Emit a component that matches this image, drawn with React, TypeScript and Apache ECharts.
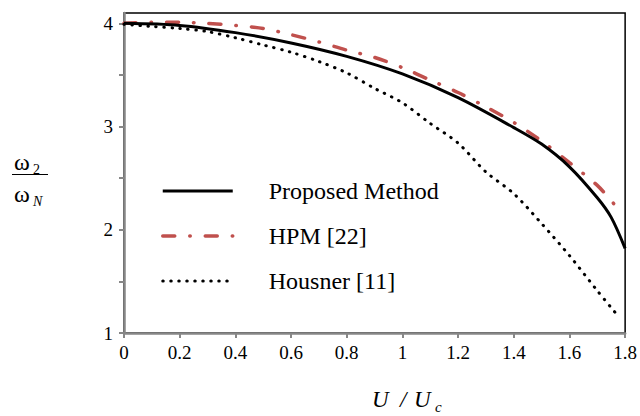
import React, { useEffect, useRef } from "react";
import * as echarts from "echarts";

// ---- Data ----
const proposedU = [0, 0.2, 0.4, 0.6, 0.8, 1.0, 1.2, 1.4, 1.5, 1.6, 1.7, 1.75, 1.8];
const proposedV = [4.0, 3.98, 3.91, 3.81, 3.68, 3.51, 3.28, 2.99, 2.83, 2.61, 2.31, 2.12, 1.82];

const hpmU = [0, 0.1, 0.2, 0.3, 0.4, 0.5, 0.6, 0.7, 0.8, 0.9, 1.0, 1.1, 1.2, 1.3, 1.4, 1.5, 1.6, 1.7, 1.76];
const hpmV = [4.0, 4.01, 4.01, 4.0, 3.98, 3.95, 3.89, 3.82, 3.74, 3.67, 3.57, 3.45, 3.33, 3.19, 3.04, 2.86, 2.65, 2.43, 2.25];

const housnerU = [0, 0.1, 0.2, 0.3, 0.4, 0.5, 0.6, 0.7, 0.8, 0.9, 1.0, 1.1, 1.2, 1.3, 1.4, 1.5, 1.6, 1.7, 1.77];
const housnerV = [3.99, 3.97, 3.95, 3.92, 3.86, 3.79, 3.72, 3.63, 3.52, 3.37, 3.23, 3.03, 2.84, 2.56, 2.35, 2.06, 1.75, 1.41, 1.18];

const seriesNames = ["Proposed Method", "HPM [22]", "Housner [11]"];
const yTickValues = [1, 1.5, 2, 2.5, 3, 3.5, 4];
const yLabelValues = [1, 2, 3, 4];

const pairs = (xs: number[], ys: number[]) => xs.map((x, i) => [x, ys[i]]);

const SERIF = "Liberation Serif, Times New Roman, serif";
const AXIS_GRAY = "#878787";

export default function App() {
  const ref = useRef<HTMLDivElement>(null);

  useEffect(() => {
    if (!ref.current) return;
    const chart = echarts.init(ref.current, undefined, { renderer: "svg" });
    chart.setOption({
      animation: false,
      backgroundColor: "#ffffff",
      textStyle: { fontFamily: SERIF },
      grid: {
        left: 124,
        right: 11,
        top: 13,
        bottom: 83,
        show: true,
        borderColor: "#000000",
        borderWidth: 1.5,
        backgroundColor: "transparent",
      },
      xAxis: {
        type: "value",
        min: 0,
        max: 1.8,
        interval: 0.2,
        axisLine: { show: true, lineStyle: { color: AXIS_GRAY, width: 2.5 } },
        axisTick: { show: true, length: 5, lineStyle: { color: AXIS_GRAY, width: 2 } },
        axisLabel: {
          color: "#000",
          fontFamily: SERIF,
          fontSize: 19,
          margin: 10,
          formatter: (v: number) => String(Math.round(v * 10) / 10),
        },
        splitLine: { show: false },
      },
      yAxis: {
        type: "value",
        min: 1,
        max: 4.1,
        interval: 0.5,
        axisLine: { show: true, lineStyle: { color: AXIS_GRAY, width: 2.5 } },
        axisTick: {
          show: true,
          length: 5,
          customValues: yTickValues,
          lineStyle: { color: AXIS_GRAY, width: 2 },
        },
        axisLabel: {
          color: "#000",
          fontFamily: SERIF,
          fontSize: 19,
          margin: 11,
          customValues: yLabelValues,
          formatter: (v: number) => (Number.isInteger(v) ? String(v) : ""),
        },
        splitLine: { show: false },
      },
      legend: {
        orient: "vertical",
        left: 156,
        top: 174,
        itemWidth: 70,
        itemHeight: 14,
        itemGap: 21,
        data: seriesNames,
        itemStyle: { opacity: 0, color: "transparent", borderWidth: 0 },
        lineStyle: { width: "inherit" },
        textStyle: {
          fontFamily: SERIF,
          fontSize: 24,
          lineHeight: 24,
          color: "#000",
          padding: [0, 0, 0, 31],
        },
      },
      graphic: [
        {
          type: "text",
          left: 14,
          top: 150,
          style: { text: "ω", font: `24px ${SERIF}`, fill: "#000" },
        },
        {
          type: "text",
          left: 33,
          top: 162,
          style: { text: "2", font: `14px ${SERIF}`, fill: "#000" },
        },
        {
          type: "line",
          shape: { x1: 12, y1: 174.5, x2: 48, y2: 174.5 },
          style: { stroke: "#000", lineWidth: 1.2 },
        },
        {
          type: "text",
          left: 14,
          top: 182,
          style: { text: "ω", font: `24px ${SERIF}`, fill: "#000" },
        },
        {
          type: "text",
          left: 33,
          top: 194,
          style: { text: "N", font: `italic 14px ${SERIF}`, fill: "#000" },
        },
        {
          type: "text",
          left: 372,
          top: 388,
          style: { text: "U", font: `italic 23px ${SERIF}`, fill: "#000" },
        },
        {
          type: "text",
          left: 400,
          top: 388,
          style: { text: "/", font: `italic 23px ${SERIF}`, fill: "#000" },
        },
        {
          type: "text",
          left: 414,
          top: 388,
          style: { text: "U", font: `italic 23px ${SERIF}`, fill: "#000" },
        },
        {
          type: "text",
          left: 435,
          top: 399,
          style: { text: "c", font: `italic 15px ${SERIF}`, fill: "#000" },
        },
      ],
      series: [
        {
          name: seriesNames[0],
          type: "line",
          data: pairs(proposedU, proposedV),
          smooth: 0.3,
          symbol: "none",
          showSymbol: false,
          lineStyle: { color: "#000000", width: 3, type: "solid" },
          itemStyle: { color: "#000000" },
          z: 3,
        },
        {
          name: seriesNames[1],
          type: "line",
          data: pairs(hpmU, hpmV),
          smooth: 0.3,
          symbol: "none",
          showSymbol: false,
          lineStyle: { color: "#C0504D", width: 3.5, type: [12, 15, 0.5, 15], cap: "round" },
          itemStyle: { color: "#C0504D" },
          z: 2,
        },
        {
          name: seriesNames[2],
          type: "line",
          data: pairs(housnerU, housnerV),
          smooth: 0.3,
          symbol: "none",
          showSymbol: false,
          lineStyle: { color: "#000000", width: 3, type: [0.5, 7.5], cap: "round" },
          itemStyle: { color: "#000000" },
          z: 2,
        },
      ],
    });
    return () => chart.dispose();
  }, []);

  return (
    <div
      ref={ref}
      style={{ position: "absolute", left: 0, top: 0, width: 640, height: 416, background: "#fff" }}
    />
  );
}
